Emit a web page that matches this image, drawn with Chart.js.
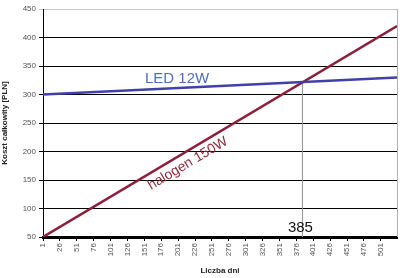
<!DOCTYPE html>
<html>
<head>
<meta charset="utf-8">
<script src="https://cdn.jsdelivr.net/npm/chart.js@4"></script>
<style>
  html, body { margin: 0; padding: 0; background: #fff; }
  #wrap { width: 400px; height: 278px; }
</style>
</head>
<body>
<div id="wrap"><canvas id="c"></canvas></div>
<script>
// Dane
const days = [1, 525];
const ledCost = [300, 330];
const halogenCost = [50, 420];
const breakEvenDay = 385;
const breakEvenCost = 322;
const xTicks = [1, 26, 51, 76, 101, 126, 151, 176, 201, 226, 251, 276, 301, 326, 351, 376, 401, 426, 451, 476, 501];
const yTicks = [50, 100, 150, 200, 250, 300, 350, 400, 450];

const FONT = '"Liberation Sans", Arial, sans-serif';

// Napisy na wykresie
const labelsPlugin = {
  id: 'labels',
  afterDatasetsDraw(chart) {
    const { ctx, scales: { x, y }, chartArea } = chart;
    ctx.save();
    // ramka z prawej
    ctx.strokeStyle = '#b0b0b0';
    ctx.lineWidth = 1;
    ctx.beginPath();
    ctx.moveTo(chartArea.right + 0.5, chartArea.top);
    ctx.lineTo(chartArea.right + 0.5, chartArea.bottom);
    ctx.stroke();

    ctx.font = '15px ' + FONT;
    ctx.fillStyle = '#4f6cc0';
    ctx.textAlign = 'left';
    ctx.textBaseline = 'alphabetic';
    ctx.fillText('LED 12W', x.getPixelForValue(152), y.getPixelForValue(321));

    // halogen – obrócony wzdłuż linii, pod nią
    const x0 = x.getPixelForValue(days[0]), y0 = y.getPixelForValue(halogenCost[0]);
    const x1 = x.getPixelForValue(days[1]), y1 = y.getPixelForValue(halogenCost[1]);
    const ang = Math.atan2(y1 - y0, x1 - x0);
    const t = (207 - days[0]) / (days[1] - days[0]);
    ctx.translate(x0 + t * (x1 - x0), y0 + t * (y1 - y0));
    ctx.rotate(ang);
    ctx.font = '14px ' + FONT;
    ctx.fillStyle = '#8e2a3a';
    ctx.textAlign = 'center';
    ctx.textBaseline = 'top';
    ctx.fillText('halogen 150W', 0, 4);
    ctx.setTransform(1, 0, 0, 1, 0, 0);

    ctx.fillStyle = '#111';
    ctx.font = '15px ' + FONT;
    ctx.textAlign = 'center';
    ctx.textBaseline = 'alphabetic';
    ctx.fillText(String(breakEvenDay), x.getPixelForValue(breakEvenDay) - 2, chartArea.bottom - 5);
    ctx.restore();
  }
};

new Chart(document.getElementById('c'), {
  type: 'scatter',
  data: {
    datasets: [
      {
        label: 'LED 12W',
        data: days.map((d, i) => ({ x: d, y: ledCost[i] })),
        showLine: true,
        borderColor: '#4040a8',
        borderWidth: 2.5,
        pointRadius: 0
      },
      {
        label: 'halogen 150W',
        data: days.map((d, i) => ({ x: d, y: halogenCost[i] })),
        showLine: true,
        borderColor: '#8e1f3c',
        borderWidth: 2.5,
        pointRadius: 0
      },
      {
        label: 'break-even',
        data: [{ x: breakEvenDay, y: yTicks[0] }, { x: breakEvenDay, y: breakEvenCost }],
        showLine: true,
        borderColor: '#909090',
        borderWidth: 1,
        pointRadius: 0
      }
    ]
  },
  options: {
    responsive: true,
    maintainAspectRatio: false,
    animation: false,
    layout: { padding: { top: 9, right: 3, left: 0, bottom: 0 } },
    plugins: { legend: { display: false }, tooltip: { enabled: false } },
    scales: {
      x: {
        type: 'linear',
        min: days[0],
        max: days[days.length - 1],
        afterBuildTicks: s => { s.ticks = xTicks.map(v => ({ value: v })); },
        afterFit: s => { s.height = 41; },
        ticks: {
          autoSkip: false,
          minRotation: 90,
          maxRotation: 90,
          padding: 2,
          color: '#555',
          font: { family: FONT, size: 8 }
        },
        grid: { display: true, drawOnChartArea: false, tickLength: 4, color: '#000' },
        border: { display: true, color: '#000', width: 3 },
        title: {
          display: true,
          text: 'Liczba dni',
          color: '#222',
          padding: { top: 0, bottom: 2 },
          font: { family: FONT, size: 8, weight: 'bold' }
        }
      },
      y: {
        min: yTicks[0],
        max: yTicks[yTicks.length - 1],
        afterBuildTicks: s => { s.ticks = yTicks.map(v => ({ value: v })); },
        afterFit: s => { s.width = 43; },
        ticks: {
          padding: 3,
          color: '#555',
          font: { family: FONT, size: 8 }
        },
        grid: {
          tickLength: 4,
          color: c => (c.tick && c.tick.value === 450 ? '#c8c8c8' : '#000'),
          lineWidth: 1
        },
        border: { display: true, color: '#000', width: 1 },
        title: {
          display: true,
          text: 'Koszt całkowity [PLN]',
          color: '#222',
          padding: { top: 0, bottom: 2 },
          font: { family: FONT, size: 8, weight: 'bold' }
        }
      }
    }
  },
  plugins: [labelsPlugin]
});
</script>
</body>
</html>
